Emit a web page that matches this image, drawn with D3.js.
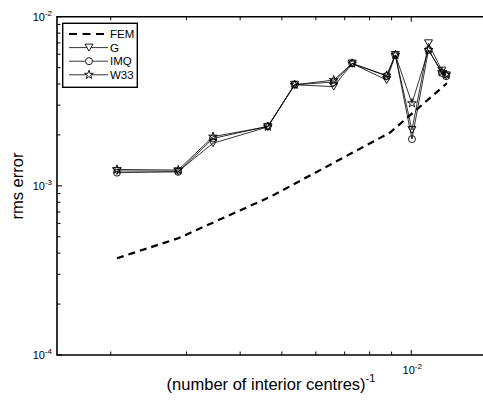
<!DOCTYPE html>
<html>
<head>
<meta charset="utf-8">
<script src="https://cdn.jsdelivr.net/npm/d3@7"></script>
<style>
body { margin: 0; background: #fff; }
text { font-family: "Liberation Sans", Arial, sans-serif; fill: #000; }
</style>
</head>
<body>
<svg id="chart" width="483" height="400"></svg>
<script>
// x = 1 / (number of interior centres)
var xVals = [2.068e-3, 2.870e-3, 3.459e-3, 4.638e-3, 5.354e-3, 6.603e-3, 7.286e-3, 8.765e-3, 9.182e-3, 1.0037e-2, 1.0967e-2, 1.1781e-2, 1.2055e-2];
var gVals = [1.225e-3, 1.22e-3, 1.786e-3, 2.23e-3, 3.96e-3, 3.86e-3, 5.29e-3, 4.22e-3, 5.94e-3, 2.14e-3, 6.96e-3, 4.8e-3, 4.5e-3];
var imqVals = [1.197e-3, 1.21e-3, 1.906e-3, 2.25e-3, 3.96e-3, 4.11e-3, 5.29e-3, 4.46e-3, 5.94e-3, 1.89e-3, 6.36e-3, 4.65e-3, 4.45e-3];
var w33Vals = [1.25e-3, 1.24e-3, 1.954e-3, 2.239e-3, 3.96e-3, 4.22e-3, 5.29e-3, 4.49e-3, 5.94e-3, 3.08e-3, 6.36e-3, 4.7e-3, 4.55e-3];

var femX = [2.068e-3, 2.870e-3, 4.708e-3, 8.94e-3, 1.21e-2];
var femVals = [3.73e-4, 4.90e-4, 8.63e-4, 2.07e-3, 4.04e-3];

var xMajor = [1e-2];
var xMajorLabels = ["-2"];
var yMajor = [1e-4, 1e-3, 1e-2];
var yMajorLabels = ["-4", "-3", "-2"];

var legendNames = ["FEM", "G", "IMQ", "W33"];

var svg = d3.select("#chart");
var pLeft = 57, pTop = 16.7, pBottom = 355, pRight = 487;

var x = d3.scaleLog().domain([1.5e-3, 1.5e-2]).range([pLeft, pRight]);
var y = d3.scaleLog().domain([1e-4, 1e-2]).range([pBottom, pTop]);

// minor + major ticks, pointing inwards
var xt = x.ticks();
var yt = y.ticks();

var ticks = svg.append("g").attr("stroke", "#000").attr("stroke-width", 1);
xt.forEach(function(t) {
  var len = xMajor.indexOf(t) >= 0 ? 5 : 3.5;
  ticks.append("line").attr("x1", x(t)).attr("x2", x(t)).attr("y1", pBottom).attr("y2", pBottom - len);
  ticks.append("line").attr("x1", x(t)).attr("x2", x(t)).attr("y1", pTop).attr("y2", pTop + len);
});
yt.forEach(function(t) {
  var len = yMajor.indexOf(t) >= 0 ? 5 : 3.5;
  ticks.append("line").attr("x1", pLeft).attr("x2", pLeft + len).attr("y1", y(t)).attr("y2", y(t));
});

// box
svg.append("path")
  .attr("d", "M" + pRight + "," + pTop + "H" + pLeft + "V" + pBottom + "H" + pRight)
  .attr("fill", "none")
  .attr("stroke", "#000")
  .attr("stroke-width", 1.6);

// tick labels 10^n
function powLabel(g, px, py, exp, anchor) {
  var t = g.append("text")
    .attr("x", px).attr("y", py)
    .attr("text-anchor", anchor)
    .attr("font-size", 11);
  t.append("tspan").text("10");
  t.append("tspan").attr("font-size", 8).attr("dy", -5).text(exp);
}
yMajor.forEach(function(t, i) {
  powLabel(svg, 52, y(t) + 4, yMajorLabels[i], "end");
});
xMajor.forEach(function(t, i) {
  powLabel(svg, x(t) + 1, 374, xMajorLabels[i], "middle");
});

// axis titles
var xt1 = svg.append("text")
  .attr("x", 271).attr("y", 390)
  .attr("text-anchor", "middle")
  .attr("font-size", 16.5);
xt1.append("tspan").text("(number of interior centres)");
xt1.append("tspan").attr("font-size", 11).attr("dy", -8).text("-1");

svg.append("text")
  .attr("transform", "translate(23,186) rotate(-90)")
  .attr("text-anchor", "middle")
  .attr("font-size", 16.5)
  .text("rms error");

// marker shapes
function drawMarker(g, kind, cx, cy) {
  if (kind === "G") {
    g.append("path")
      .attr("d", "M" + (cx - 4) + "," + (cy - 3.5) + "L" + (cx + 4) + "," + (cy - 3.5) + "L" + cx + "," + (cy + 3.5) + "Z");
  } else if (kind === "IMQ") {
    g.append("circle").attr("cx", cx).attr("cy", cy).attr("r", 3.5);
  } else if (kind === "W33") {
    g.append("path")
      .attr("transform", "translate(" + cx + "," + cy + ")")
      .attr("d", d3.symbol().type(d3.symbolStar).size(24)());
  }
}

var line = d3.line()
  .x(function(d) { return x(d[0]); })
  .y(function(d) { return y(d[1]); });

// FEM dashed
svg.append("path")
  .datum(femX.map(function(v, i) { return [v, femVals[i]]; }))
  .attr("d", line)
  .attr("fill", "none")
  .attr("stroke", "#000")
  .attr("stroke-width", 2.2)
  .attr("stroke-dasharray", "7,5");

var series = [["G", gVals], ["IMQ", imqVals], ["W33", w33Vals]];
series.forEach(function(s) {
  var pts = xVals.map(function(v, i) { return [v, s[1][i]]; });
  svg.append("path")
    .datum(pts)
    .attr("d", line)
    .attr("fill", "none")
    .attr("stroke", "#000")
    .attr("stroke-width", 0.8);
  var mg = svg.append("g").attr("fill", "none").attr("stroke", "#000").attr("stroke-width", 0.9);
  pts.forEach(function(p) { drawMarker(mg, s[0], x(p[0]), y(p[1])); });
});

// legend
var lg = svg.append("g");
lg.append("rect")
  .attr("x", 62.7).attr("y", 23.3)
  .attr("width", 74.6).attr("height", 64)
  .attr("fill", "#fff")
  .attr("stroke", "#000")
  .attr("stroke-width", 1.4);

legendNames.forEach(function(name, i) {
  var ly = 34 + i * 13.6;
  var ln = lg.append("line")
    .attr("x1", 69).attr("x2", 108)
    .attr("y1", ly).attr("y2", ly)
    .attr("stroke", "#000");
  if (name === "FEM") {
    ln.attr("stroke-width", 2.2).attr("stroke-dasharray", "8,5.5");
  } else {
    ln.attr("stroke-width", 0.8);
    var mg = lg.append("g").attr("fill", "#fff").attr("stroke", "#000").attr("stroke-width", 0.9);
    drawMarker(mg, name, 89, ly);
  }
  lg.append("text")
    .attr("x", 110).attr("y", ly + 4)
    .attr("font-size", 11.5)
    .text(name);
});
</script>
</body>
</html>
